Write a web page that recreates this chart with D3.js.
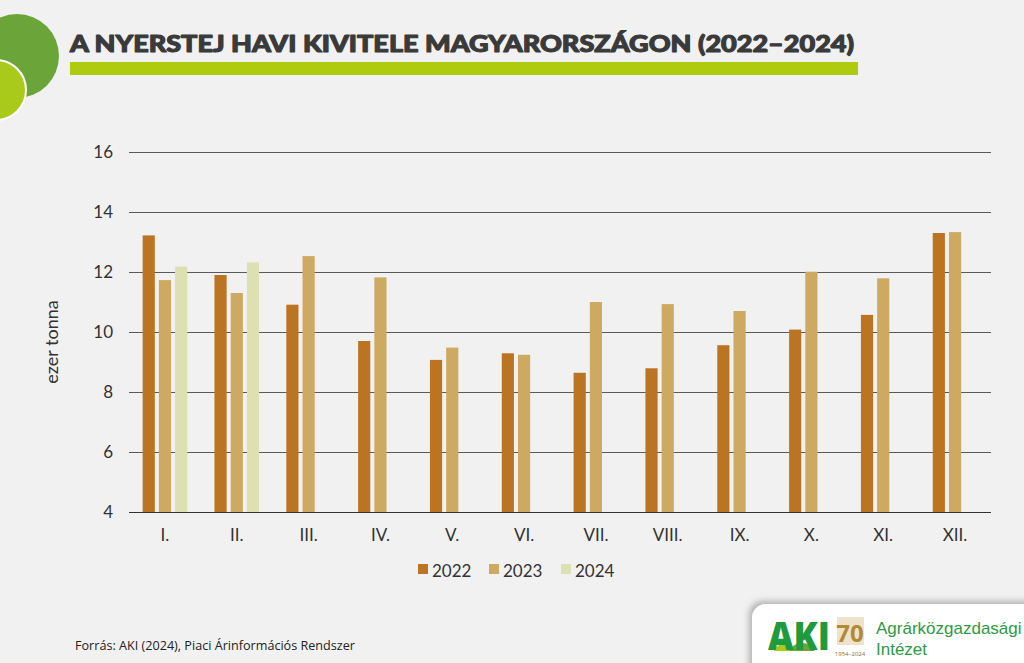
<!DOCTYPE html>
<html>
<head>
<meta charset="utf-8">
<script src="https://cdn.jsdelivr.net/npm/d3@7"></script>
<style>
  html, body { margin: 0; padding: 0; background: #f1f1f1; }
  svg { display: block; }
</style>
</head>
<body>
<svg id="chart" width="1024" height="663"></svg>
<script>
const months = ["I.", "II.", "III.", "IV.", "V.", "VI.", "VII.", "VIII.", "IX.", "X.", "XI.", "XII."];
const years = ["2022", "2023", "2024"];
const values2022 = [13.22, 11.9, 10.91, 9.7, 9.07, 9.29, 8.64, 8.79, 9.56, 10.08, 10.57, 13.3];
const values2023 = [11.73, 11.3, 12.53, 11.82, 9.48, 9.24, 11.0, 10.93, 10.7, 12.01, 11.79, 13.33];
const values2024 = [12.18, 12.32, null, null, null, null, null, null, null, null, null, null];
const yTicks = [4, 6, 8, 10, 12, 14, 16];
const colors = ["#bb7421", "#cea962", "#dde0b0"];
const titleText = "A NYERSTEJ HAVI KIVITELE MAGYARORSZÁGON (2022–2024)";
const yLabel = "ezer tonna";
const sourceText = "Forrás: AKI (2024), Piaci Árinformációs Rendszer";

const series = [values2022, values2023, values2024];
const svg = d3.select("#chart");
const lightFont = "Lato, 'Open Sans', sans-serif";

// background
svg.append("rect").attr("width", 1024).attr("height", 663).attr("fill", "#f1f1f1");

// decorative circles
svg.append("circle").attr("cx", 17).attr("cy", 56).attr("r", 42).attr("fill", "#6ba53a");
svg.append("circle").attr("cx", -4).attr("cy", 90).attr("r", 30).attr("fill", "#a9c91b")
  .attr("stroke", "#ffffff").attr("stroke-width", 2);

// title
svg.append("text").attr("x", 70).attr("y", 52)
  .attr("font-family", "Lato, 'Open Sans', sans-serif").attr("font-weight", 900)
  .attr("font-size", 23).attr("fill", "#3a3a3a")
  .attr("stroke", "#3a3a3a").attr("stroke-width", 1.1).attr("stroke-linejoin", "round")
  .attr("textLength", 784).attr("lengthAdjust", "spacingAndGlyphs")
  .text(titleText);
svg.append("rect").attr("x", 70).attr("y", 62).attr("width", 788).attr("height", 13).attr("fill", "#aecb10");

// scales
const x0 = d3.scaleBand().domain(months).range([129, 991]).paddingInner(0.379).paddingOuter(0.19);
const x1 = d3.scaleBand().domain(years).range([0, x0.bandwidth()]).paddingInner(0.25).paddingOuter(0);
const y = d3.scaleLinear().domain([4, 16]).range([512, 152]);

// gridlines
const g = svg.append("g");
g.selectAll("line.grid").data(yTicks).join("line")
  .attr("x1", 129).attr("x2", 991)
  .attr("y1", d => y(d) + 0.5).attr("y2", d => y(d) + 0.5)
  .attr("stroke", d => d === 4 ? "#333" : "#5a5a5a").attr("stroke-width", 1.2);

// y tick labels
g.selectAll("text.ytick").data(yTicks).join("text")
  .attr("x", 113).attr("y", d => y(d) + 6)
  .attr("text-anchor", "end")
  .attr("font-family", lightFont).attr("font-weight", 400)
  .attr("font-size", 17).attr("fill", "#333")
  .text(d => d);

// bars
months.forEach((m, i) => {
  series.forEach((s, k) => {
    const v = s[i];
    if (v == null) return;
    svg.append("rect")
      .attr("x", x0(m) + x1(years[k]))
      .attr("y", y(v))
      .attr("width", x1.bandwidth())
      .attr("height", y(4) - y(v))
      .attr("fill", colors[k]);
  });
});
svg.append("line").attr("x1", 129).attr("x2", 991).attr("y1", y(4) + 0.5).attr("y2", y(4) + 0.5)
  .attr("stroke", "#333").attr("stroke-width", 1.2);

// x labels
svg.selectAll("text.xlab").data(months).join("text")
  .attr("x", d => x0(d) + x0.bandwidth() / 2)
  .attr("y", 541)
  .attr("text-anchor", "middle")
  .attr("font-family", lightFont).attr("font-weight", 400)
  .attr("font-size", 17).attr("fill", "#333")
  .text(d => d);

// y axis title
svg.append("text")
  .attr("transform", "translate(58,342) rotate(-90)")
  .attr("text-anchor", "middle")
  .attr("font-family", lightFont).attr("font-weight", 400)
  .attr("font-size", 18).attr("fill", "#333")
  .text(yLabel);

// legend
const legendX = [418, 489, 561];
years.forEach((yr, k) => {
  svg.append("rect").attr("x", legendX[k]).attr("y", 564).attr("width", 10).attr("height", 10).attr("fill", colors[k]);
  svg.append("text").attr("x", legendX[k] + 14).attr("y", 577)
    .attr("font-family", lightFont).attr("font-weight", 400)
    .attr("font-size", 17).attr("fill", "#333").text(yr);
});

// source
svg.append("text").attr("x", 75).attr("y", 650)
  .attr("font-family", "'Open Sans', sans-serif").attr("font-size", 12.5).attr("fill", "#222")
  .attr("textLength", 280).attr("lengthAdjust", "spacingAndGlyphs")
  .text(sourceText);

// logo card
const defs = svg.append("defs");
const filt = defs.append("filter").attr("id", "sh").attr("x", "-20%").attr("y", "-50%").attr("width", "140%").attr("height", "200%");
filt.append("feDropShadow").attr("dx", -3).attr("dy", -3).attr("stdDeviation", 3).attr("flood-color", "#888").attr("flood-opacity", 0.6);
svg.append("rect").attr("x", 752).attr("y", 604).attr("width", 300).attr("height", 80).attr("rx", 14)
  .attr("fill", "#ffffff").attr("filter", "url(#sh)");
const logo = svg.append("g");
logo.append("circle").attr("cx", 784).attr("cy", 655).attr("r", 11).attr("fill", "#a9c91b");
logo.append("circle").attr("cx", 802).attr("cy", 657).attr("r", 14).attr("fill", "#6ba53a");
logo.append("rect").attr("x", 765).attr("y", 651).attr("width", 60).attr("height", 13).attr("fill", "#ffffff");
logo.append("text").attr("x", 768).attr("y", 650)
  .attr("font-family", "'Open Sans', sans-serif").attr("font-weight", 800)
  .attr("font-size", 38).attr("fill", "#1f9a3c")
  .attr("textLength", 62).attr("lengthAdjust", "spacingAndGlyphs").text("AKI");
// 70 emblem
logo.append("rect").attr("x", 837).attr("y", 617).attr("width", 27).attr("height", 28).attr("fill", "#c8a34e").attr("opacity", 0.3);
logo.append("text").attr("x", 850).attr("y", 642).attr("text-anchor", "middle")
  .attr("font-family", "'Open Sans', sans-serif").attr("font-weight", 700)
  .attr("font-size", 24).attr("fill", "#b08a34").text("70");
logo.append("text").attr("x", 850).attr("y", 656).attr("text-anchor", "middle")
  .attr("font-family", "'Open Sans', sans-serif").attr("font-size", 6).attr("fill", "#8a6d2a").text("1954–2024");
logo.append("text").attr("x", 876).attr("y", 634)
  .attr("font-family", "'Liberation Sans', Arial, sans-serif").attr("font-size", 17).attr("fill", "#2e9a43")
  .text("Agrárközgazdasági");
logo.append("text").attr("x", 876).attr("y", 655)
  .attr("font-family", "'Liberation Sans', Arial, sans-serif").attr("font-size", 17).attr("fill", "#2e9a43")
  .text("Intézet");
</script>
</body>
</html>
